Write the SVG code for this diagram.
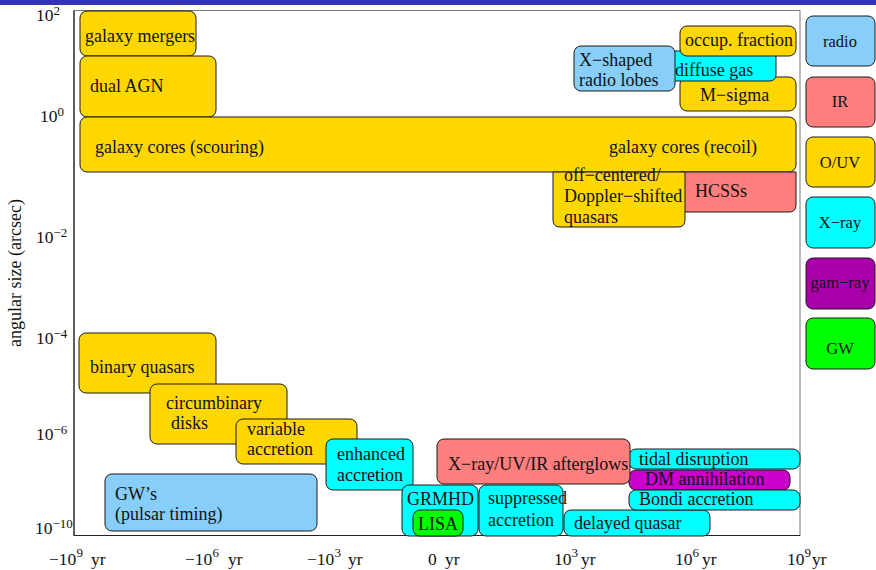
<svg xmlns="http://www.w3.org/2000/svg" width="876" height="570" viewBox="0 0 876 570">
<style>
  text { font-family: "Liberation Serif", "Times New Roman", serif; fill: #111; }
  .lbl { font-size: 18px; }
  .tick { font-size: 17.5px; }
  .sup { font-size: 13px; }
  .ylab { font-size: 18px; }
  .leg { font-size: 16.5px; text-anchor: middle; }
  .box { stroke: #1a1a1a; stroke-width: 1; }
  .gold { fill: #ffd700; }
  .blue { fill: #87cefa; }
  .red { fill: #ff7f7f; }
  .cyan { fill: #00ffff; }
  .mag { fill: #cc00cc; }
  .purp { fill: #aa00aa; }
  .green { fill: #00ff00; }
</style>
<rect x="0" y="0" width="876" height="570" fill="#ffffff"/>
<rect x="0" y="0" width="876" height="5" fill="#3333b3"/>

<g id="axes">
  <rect x="74" y="10.5" width="726" height="525" fill="none" stroke="#777" stroke-width="1"/>
  <line x1="74" y1="10.5" x2="74" y2="535.5" stroke="#222" stroke-width="1.2"/>
  <line x1="74" y1="535.5" x2="800" y2="535.5" stroke="#222" stroke-width="1.2"/>
  <text class="tick" x="36" y="21">10<tspan class="sup" dy="-6">2</tspan></text>
  <text class="tick" x="40" y="122">10<tspan class="sup" dy="-6">0</tspan></text>
  <text class="tick" x="36" y="243">10<tspan class="sup" dy="-6">−2</tspan></text>
  <text class="tick" x="36" y="344">10<tspan class="sup" dy="-6">−4</tspan></text>
  <text class="tick" x="36" y="440">10<tspan class="sup" dy="-6">−6</tspan></text>
  <text class="tick" x="35" y="534">10<tspan class="sup" dy="-6">−10</tspan></text>
  <text class="tick" x="49" y="565">−10<tspan class="sup" dy="-8">9</tspan><tspan x="91" y="565">yr</tspan></text>
  <text class="tick" x="185" y="565">−10<tspan class="sup" dy="-8">6</tspan><tspan x="228" y="565">yr</tspan></text>
  <text class="tick" x="307" y="565">−10<tspan class="sup" dy="-8">3</tspan><tspan x="348" y="565">yr</tspan></text>
  <text class="tick" x="428" y="565">0<tspan x="445" y="565">yr</tspan></text>
  <text class="tick" x="554" y="565">10<tspan class="sup" dy="-8">3</tspan><tspan x="581" y="565">yr</tspan></text>
  <text class="tick" x="675" y="565">10<tspan class="sup" dy="-8">6</tspan><tspan x="702" y="565">yr</tspan></text>
  <text class="tick" x="787" y="565">10<tspan class="sup" dy="-8">9</tspan><tspan x="812" y="565">yr</tspan></text>
  <text class="ylab" transform="translate(21,273) rotate(-90)" text-anchor="middle">angular size (arcsec)</text>
</g>

<g id="connectors"></g>

<g id="galaxy-mergers">
  <rect class="box gold" x="80" y="11" width="116" height="45" rx="7"/>
  <text class="lbl" x="85" y="42">galaxy mergers</text>
</g>
<g id="dual-agn">
  <rect class="box gold" x="80" y="56" width="136" height="61" rx="7"/>
  <text class="lbl" x="90" y="92">dual AGN</text>
</g>
<g id="galaxy-cores">
  <rect class="box gold" x="80" y="117" width="716" height="55" rx="7"/>
  <text class="lbl" x="95" y="153">galaxy cores (scouring)</text>
  <text class="lbl" x="609" y="153">galaxy cores (recoil)</text>
</g>
<g id="hcss">
  <path class="box red" d="M680,172 H796 V205 Q796,212 789,212 H687 Q680,212 680,205 Z"/>
  <text class="lbl" x="695" y="197">HCSSs</text>
</g>
<g id="off-centered">
  <path class="box gold" d="M553,172 H685 V220 Q685,227 678,227 H560 Q553,227 553,220 Z"/>
  <text class="lbl" x="564" y="181">off−centered/</text>
  <text class="lbl" x="564" y="202">Doppler−shifted</text>
  <text class="lbl" x="564" y="223">quasars</text>
</g>
<g id="m-sigma">
  <rect class="box gold" x="680" y="77" width="116" height="34" rx="7"/>
  <text class="lbl" x="700" y="101">M−sigma</text>
</g>
<g id="diffuse-gas">
  <rect class="box cyan" x="668" y="51" width="108" height="30" rx="6"/>
  <text class="lbl" x="675" y="76">diffuse gas</text>
</g>
<g id="x-shaped">
  <rect class="box blue" x="574" y="46" width="101" height="45" rx="7"/>
  <text class="lbl" x="579" y="66">X−shaped</text>
  <text class="lbl" x="579" y="86">radio lobes</text>
</g>
<g id="occup-fraction">
  <rect class="box gold" x="680" y="26" width="116" height="30" rx="7"/>
  <text class="lbl" x="685" y="46">occup. fraction</text>
</g>

<g id="binary-quasars">
  <rect class="box gold" x="79" y="333" width="137" height="60" rx="7"/>
  <text class="lbl" x="90" y="373">binary quasars</text>
</g>
<g id="circumbinary">
  <rect class="box gold" x="150" y="384" width="137" height="60" rx="7"/>
  <text class="lbl" x="166" y="409">circumbinary</text>
  <text class="lbl" x="171" y="429">disks</text>
</g>
<g id="variable-accretion">
  <rect class="box gold" x="236" y="419" width="121" height="45" rx="7"/>
  <text class="lbl" x="247" y="435">variable</text>
  <text class="lbl" x="247" y="455">accretion</text>
</g>
<g id="enhanced-accretion">
  <rect class="box cyan" x="326" y="439" width="87" height="51" rx="7"/>
  <text class="lbl" x="337" y="460">enhanced</text>
  <text class="lbl" x="337" y="481">accretion</text>
</g>
<g id="gws">
  <rect class="box blue" x="105" y="474" width="212" height="57" rx="7"/>
  <text class="lbl" x="115" y="500">GW’s</text>
  <text class="lbl" x="115" y="520">(pulsar timing)</text>
</g>
<g id="grmhd">
  <rect class="box cyan" x="402" y="485" width="76" height="51" rx="7"/>
  <text class="lbl" x="407" y="505">GRMHD</text>
</g>
<g id="lisa">
  <rect class="box green" x="413" y="510" width="50" height="26" rx="7"/>
  <text class="lbl" x="418" y="530">LISA</text>
</g>
<g id="suppressed-accretion">
  <rect class="box cyan" x="479" y="485" width="84" height="51" rx="7"/>
  <text class="lbl" x="488" y="504">suppressed</text>
  <text class="lbl" x="488" y="526">accretion</text>
</g>
<g id="delayed-quasar">
  <rect class="box cyan" x="564" y="510" width="146" height="26" rx="7"/>
  <text class="lbl" x="574" y="529">delayed quasar</text>
</g>
<g id="tidal-disruption">
  <rect class="box cyan" x="629" y="449" width="171" height="20" rx="7"/>
  <text class="lbl" x="639" y="465">tidal disruption</text>
</g>
<g id="dm-annihilation">
  <rect class="box mag" x="629" y="470" width="161" height="20" rx="7"/>
  <text class="lbl" x="645" y="485">DM annihilation</text>
</g>
<g id="bondi-accretion">
  <rect class="box cyan" x="629" y="490" width="171" height="20" rx="7"/>
  <text class="lbl" x="639" y="505">Bondi accretion</text>
</g>
<g id="afterglows">
  <rect class="box red" x="437" y="439" width="193" height="45" rx="7"/>
  <text class="lbl" x="448" y="470">X−ray/UV/IR afterglows</text>
</g>

<g id="legend-radio">
  <rect class="box blue" x="806" y="16" width="69" height="50" rx="7"/>
  <text class="leg" x="840" y="47">radio</text>
</g>
<g id="legend-ir">
  <rect class="box red" x="806" y="77" width="69" height="50" rx="7"/>
  <text class="leg" x="840" y="107">IR</text>
</g>
<g id="legend-ouv">
  <rect class="box gold" x="806" y="137" width="69" height="50" rx="7"/>
  <text class="leg" x="840" y="168">O/UV</text>
</g>
<g id="legend-xray">
  <rect class="box cyan" x="806" y="197" width="69" height="51" rx="7"/>
  <text class="leg" x="840" y="228">X−ray</text>
</g>
<g id="legend-gamray">
  <rect class="box purp" x="806" y="258" width="69" height="51" rx="7"/>
  <text class="leg" x="840" y="288">gam−ray</text>
</g>
<g id="legend-gw">
  <rect class="box green" x="806" y="318" width="69" height="51" rx="7"/>
  <text class="leg" x="840" y="354">GW</text>
</g>
</svg>
